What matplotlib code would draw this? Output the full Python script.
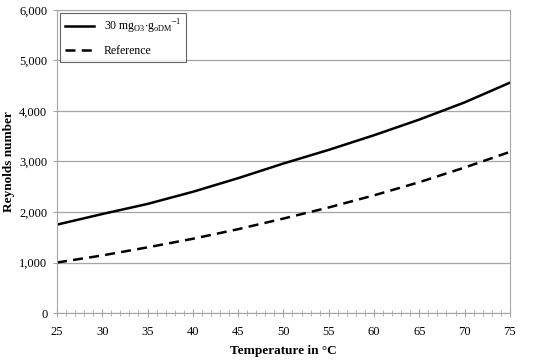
import numpy as np
import matplotlib.pyplot as plt
from matplotlib.ticker import FuncFormatter, MultipleLocator

temp = [25, 30, 35, 40, 45, 50, 55, 60, 65, 70, 75]
re_ozone = [1750, 1960, 2160, 2400, 2670, 2960, 3230, 3520, 3830, 4170, 4560]
re_ref = [1000, 1140, 1300, 1470, 1660, 1870, 2090, 2330, 2590, 2880, 3190]

plt.rcParams['font.family'] = ['Liberation Serif', 'DejaVu Serif']
plt.rcParams['mathtext.fontset'] = 'custom'
plt.rcParams['mathtext.rm'] = 'Liberation Serif'

fig = plt.figure(figsize=(5.5, 3.63), dpi=100)
ax = fig.add_axes([0.1036, 0.1377, 0.8234, 0.8348])

ax.plot(temp, re_ozone, color="black", lw=1.8,
        label=r"30 mg$_{\mathrm{O3}}$$\cdot$g$_{\mathrm{oDM}}$$^{\mathrm{-1}}$")
ax.plot(temp, re_ref, color="black", lw=1.8, ls=(0, (4, 2.5)), label="Reference")

ax.set_xlim(25, 75)
ax.set_ylim(0, 6000)
ax.xaxis.set_major_locator(MultipleLocator(5))
ax.xaxis.set_minor_locator(MultipleLocator(1))
ax.yaxis.set_major_locator(MultipleLocator(1000))
ax.yaxis.set_major_formatter(FuncFormatter(lambda v, p: f"{int(v):,}"))

ax.grid(axis="y", color="#a6a6a6", lw=0.9)
ax.set_axisbelow(True)
for s in ax.spines.values():
    s.set_color("#a6a6a6")
ax.tick_params(axis="both", colors="#a6a6a6", labelcolor="black", labelsize=9)
ax.tick_params(axis="x", which="major", direction="inout", length=6, pad=6)
ax.tick_params(axis="x", which="minor", direction="inout", length=4, color="#a6a6a6")
ax.tick_params(axis="y", direction="out", length=3, pad=4)

ax.set_xlabel("Temperature in °C", fontsize=9.5, fontweight="bold")
ax.set_ylabel("Reynolds number", fontsize=9.5, fontweight="bold")
ax.yaxis.set_label_coords(-0.092, 0.5)
ax.xaxis.set_label_coords(0.5, -0.105)

leg = ax.legend(loc="upper left", fontsize=8.5, frameon=True, fancybox=False,
                edgecolor="#404040", handlelength=2.5, borderaxespad=0.25,
                labelspacing=0.8)
leg.get_frame().set_linewidth(0.8)

fig.savefig("out.png", dpi=100)
